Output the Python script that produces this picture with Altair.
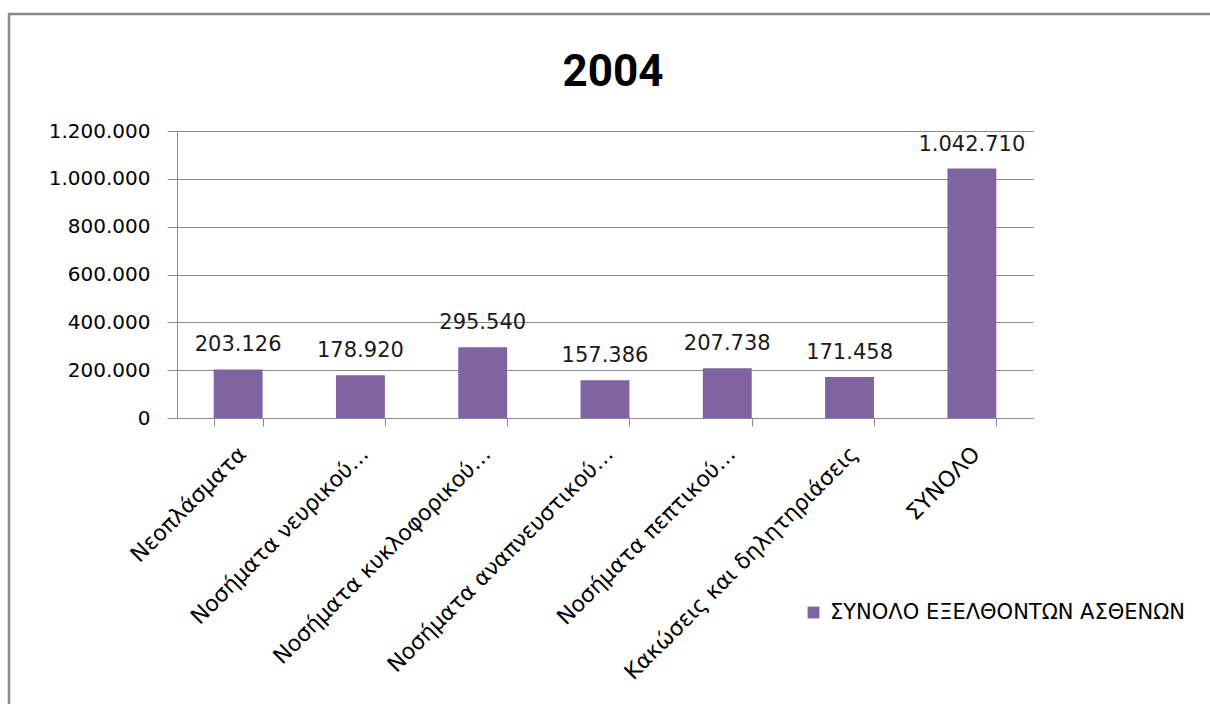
import altair as alt
import pandas as pd

title_text = "2004"
categories = [
    "Νεοπλάσματα",
    "Νοσήματα νευρικού…",
    "Νοσήματα κυκλοφορικού…",
    "Νοσήματα αναπνευστικού…",
    "Νοσήματα πεπτικού…",
    "Κακώσεις και δηλητηριάσεις",
    "ΣΥΝΟΛΟ",
]
values = [203126, 178920, 295540, 157386, 207738, 171458, 1042710]
series_name = "ΣΥΝΟΛΟ ΕΞΕΛΘΟΝΤΩΝ ΑΣΘΕΝΩΝ"
y_ticks = [0, 200000, 400000, 600000, 800000, 1000000, 1200000]

df = pd.DataFrame({"cat": categories, "val": values, "series": [series_name] * len(categories)})

FONT = "DejaVu Sans"
PURPLE = "#8064A2"
GRID = "#8A8A8A"

x_enc = alt.X(
    "cat:N", sort=categories, title=None,
    scale=alt.Scale(paddingInner=0.6, paddingOuter=0.3),
    axis=alt.Axis(labelAngle=-45, labelAlign="right", labelBaseline="middle",
                  labelFontSize=22, labelFont=FONT, labelColor="#000000",
                  labelPadding=24, labelOffset=4, labelLimit=400,
                  domainColor=GRID, tickColor=GRID, tickSize=8,
                  tickBand="extent", grid=False),
)
y_enc = alt.Y(
    "val:Q", title=None,
    scale=alt.Scale(domain=[0, 1200000], nice=False),
    axis=alt.Axis(values=y_ticks, format=",.0f", labelFontSize=20, labelFont=FONT,
                  labelColor="#000000", labelPadding=17, tickSize=10,
                  tickColor=GRID, domainColor=GRID, gridColor=GRID, gridOpacity=1,
                  labelLimit=300),
)

bars = alt.Chart(df).mark_bar(color=PURPLE).encode(
    x=x_enc,
    y=y_enc,
    color=alt.Color("series:N", scale=alt.Scale(range=[PURPLE]),
                    legend=alt.Legend(title=None, orient="none", legendX=626, legendY=471,
                                      padding=0, labelFontSize=21, labelFont=FONT,
                                      labelColor="#000000", labelOffset=6,
                                      symbolType="square", symbolSize=140, symbolStrokeWidth=0,
                                      labelLimit=600)),
)

labels = alt.Chart(df).mark_text(dy=-18, baseline="alphabetic", fontSize=21, font=FONT,
                                 color="#1a1a1a").encode(
    x=alt.X("cat:N", sort=categories),
    y=alt.Y("val:Q"),
    text=alt.Text("val:Q", format=",.0f"),
)

one_row = pd.DataFrame({"b": [1]})
border = alt.Chart(one_row).mark_rect(filled=False, stroke="#8A8A8A", strokeWidth=2.5).encode(
    x=alt.value(-168), x2=alt.value(1060), y=alt.value(-117), y2=alt.value(620)
)
title_mark = alt.Chart(one_row).mark_text(font="Roboto", fontSize=44, fontWeight="bold",
                                          color="#000000", baseline="alphabetic",
                                          align="center").encode(
    x=alt.value(436), y=alt.value(-45), text=alt.value(title_text)
)

chart = alt.layer(border, title_mark, bars, labels).properties(
    width=856, height=287,
    autosize=alt.AutoSizeParams(type="none"),
    padding={"left": 177, "top": 131, "right": 177, "bottom": 286},
).configure(
    locale=alt.Locale(number=alt.NumberLocale(decimal=",", thousands=".", grouping=[3], currency=["", " €"]))
).configure_view(stroke=None).configure_axis(labelOverlap=False)

chart.save("out.html", embed_options={"renderer": "svg", "actions": False})
